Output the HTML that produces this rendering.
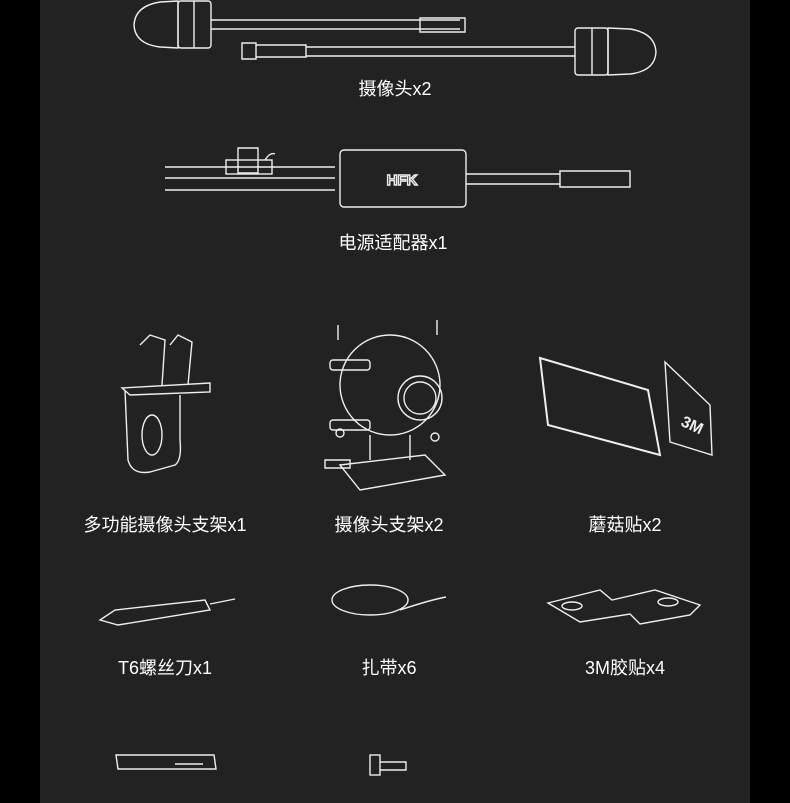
<!DOCTYPE html><html><head><meta charset="utf-8"><style>
body{margin:0;width:790px;height:803px;background:#000;overflow:hidden;position:relative;font-family:"Liberation Sans","Noto Sans CJK SC",sans-serif}
#bg{position:absolute;left:40px;top:0;width:710px;height:803px;background:#222}
.l{position:absolute;color:#fff;font-size:18px;transform:translateX(-50%);white-space:nowrap;line-height:20px}
svg{position:absolute;left:0;top:0}
</style></head><body><div id="bg"></div>
<svg width="790" height="803" fill="none" stroke="#eee" stroke-width="1.4">
<!-- camera 1 -->
<path d="M178 1 L160 2 Q135 6 134 25 Q135 44 160 47 L178 48 Z"/><rect x="178" y="1" width="33" height="47" rx="3"/><line x1="194" y1="1" x2="194" y2="48"/>
<path d="M211 20 H460 M211 29 H460"/>
<path d="M242 43 h14 v16 h-14z M256 45 h50 v12 h-50z"/><path d="M306 47 H575 M306 56 H575"/>
<path d="M420 18 h45 v14 h-45z"/>
<rect x="575" y="28" width="33" height="47" rx="3"/><line x1="592" y1="28" x2="592" y2="75"/><path d="M608 28 L630 29 Q655 33 656 52 Q655 71 630 74 L608 75Z"/>
<!-- adapter -->
<path d="M165 167 H335 M165 178 H335 M165 190 H335"/>
<rect x="226" y="160" width="46" height="14"/><path d="M238 160 v-12 h20 v25 h-20z"/><path d="M265 160 q5-8 10-6"/>
<rect x="340" y="150" width="126" height="57" rx="4"/>
<text x="402" y="185" fill="none" stroke="#eee" font-size="15" font-weight="bold" text-anchor="middle" font-family="Liberation Sans">HFK</text>
<path d="M466 174 H560 M466 184 H560"/><path d="M560 171 h70 v16 h-70z"/>
<!-- bracket -->
<path d="M140 345 L150 335 L165 340 L162 385 M170 345 L178 335 L192 342 L188 385"/>
<path d="M122 388 L210 383 L210 392 L130 395 Z"/>
<path d="M125 390 L128 460 Q132 475 150 472 L175 465 Q182 460 180 440 L180 395"/>
<ellipse cx="152" cy="435" rx="10" ry="20"/>
<!-- camera mount -->
<circle cx="390" cy="385" r="50"/><circle cx="420" cy="398" r="22"/><circle cx="420" cy="398" r="16"/>
<path d="M338 325 v15 M437 320 v15"/>
<rect x="330" y="360" width="40" height="10" rx="3"/><rect x="330" y="420" width="40" height="10" rx="3"/>
<path d="M370 435 v25 M410 435 v25 M340 465 L425 455 L445 475 L360 490 Z"/>
<path d="M325 460 h25 v8 h-25z"/><circle cx="340" cy="433" r="4"/><circle cx="435" cy="437" r="4"/>
<!-- 3M pads -->
<path d="M540 358 L648 390 L660 455 L548 425 Z" stroke-width="2"/>
<path d="M665 362 L710 405 L712 455 L670 442 Z"/>
<text x="690" y="430" fill="#eee" stroke="none" font-size="16" font-weight="bold" transform="rotate(25 690 430)" text-anchor="middle">3M</text>
<!-- screwdriver -->
<path d="M100 620 L115 610 L205 600 L210 610 L118 625 Z"/><path d="M210 604 L235 599"/>
<!-- zip tie -->
<ellipse cx="370" cy="600" rx="38" ry="15"/><path d="M400 610 Q430 600 446 597"/>
<!-- 3M sticker -->
<path d="M548 603 L600 590 L612 600 L655 590 L700 605 L690 615 L640 624 L630 614 L580 622 Z"/>
<ellipse cx="572" cy="606" rx="10" ry="4"/><ellipse cx="668" cy="602" rx="10" ry="4"/>
<!-- bottom -->
<path d="M116 755 h98 l2 14 h-98z"/><path d="M175 764 h28"/>
<rect x="370" y="755" width="10" height="20"/><path d="M380 762 h26 v8 h-26"/>
</svg>
<div class="l" style="left:395px;top:79px">摄像头x2</div>
<div class="l" style="left:393px;top:233px">电源适配器x1</div>
<div class="l" style="left:165px;top:515px">多功能摄像头支架x1</div>
<div class="l" style="left:389px;top:515px">摄像头支架x2</div>
<div class="l" style="left:625px;top:515px">蘑菇贴x2</div>
<div class="l" style="left:165px;top:658px">T6螺丝刀x1</div>
<div class="l" style="left:389px;top:658px">扎带x6</div>
<div class="l" style="left:625px;top:658px">3M胶贴x4</div>
</body></html>
